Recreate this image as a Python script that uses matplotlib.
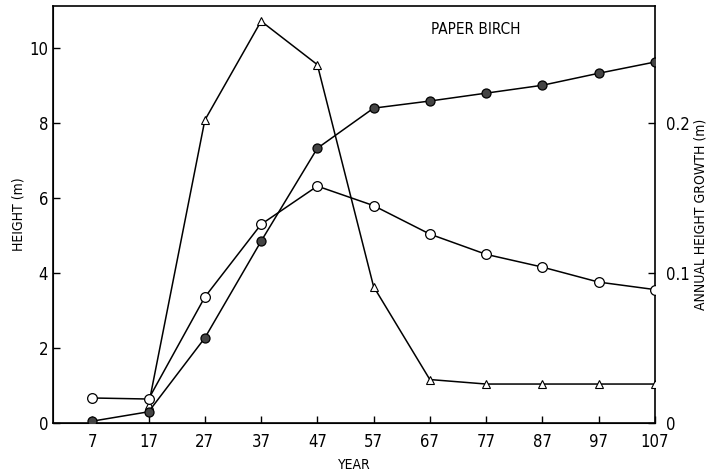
import matplotlib.pyplot as plt

plt.rcParams['font.family'] = ['DejaVu Sans']
plt.rcParams['font.stretch'] = 'condensed'

years = [7, 17, 27, 37, 47, 57, 67, 77, 87, 97, 107]
# height (m), filled circles
height = [0.05, 0.3, 2.27, 4.85, 7.33, 8.4, 8.59, 8.8, 9.01, 9.33, 9.63]
# mean annual height growth (m), open circles
mean_growth = [0.0167, 0.016, 0.084, 0.1325, 0.158, 0.145, 0.126, 0.1125, 0.104, 0.094, 0.089]
# periodic annual height growth (m), triangles
tri_years = [17, 27, 37, 47, 57, 67, 77, 87, 97, 107]
period_growth = [0.012, 0.202, 0.268, 0.239, 0.091, 0.029, 0.026, 0.026, 0.026, 0.026]

xticks = years
yticks = [0, 2, 4, 6, 8, 10]
rticks = [0, 0.1, 0.2]
rtick_labels = ['0', '0.1', '0.2']

fig = plt.figure(figsize=(7.11, 4.76), dpi=100)
ax = fig.add_axes([0.0745, 0.1113, 0.8465, 0.8757])
ax2 = ax.twinx()

ymax = 11.12
ax.set_xlim(0, 107)
ax.set_ylim(0, ymax)
ax2.set_ylim(0, ymax / 40)

ax2.plot(tri_years, period_growth, '-^', color='black', lw=1.1,
         mfc='white', mec='black', ms=6, mew=0.8, zorder=3)
ax2.plot(years, mean_growth, '-o', color='black', lw=1.1,
         mfc='white', mec='black', ms=7, mew=0.9, zorder=3)
ax.plot(years, height, '-o', color='black', lw=1.1,
        mfc='#444444', mec='black', ms=6.5, mew=0.9, zorder=4)
ax.set_zorder(ax2.get_zorder() + 1)
ax.patch.set_visible(False)

ax.set_xticks(xticks)
ax.set_yticks(yticks)
ax2.set_yticks(rticks)
ax2.set_yticklabels(rtick_labels)

ax.tick_params(axis='both', direction='in', length=5, width=1, labelsize=12)
ax.tick_params(axis='x', pad=7)
ax2.tick_params(axis='y', direction='in', length=5, width=1, labelsize=12, pad=8)

for a in (ax, ax2):
    a.spines['top'].set_visible(False)
ax.spines['right'].set_visible(False)
for s in ('left', 'bottom'):
    ax.spines[s].set_linewidth(1.2)
ax2.spines['right'].set_linewidth(1.2)
ax.axhline(ymax, color='black', lw=1.2, clip_on=False)

ax.set_xlabel('YEAR', fontsize=10, labelpad=5)
ax.set_ylabel('HEIGHT (m)', fontsize=10)
ax.yaxis.set_label_coords(-0.045, 0.5)
ax2.set_ylabel('ANNUAL HEIGHT GROWTH (m)', fontsize=10)
ax2.yaxis.set_label_coords(1.065, 0.5)

ax.text(75.1, 10.5, 'PAPER BIRCH', fontsize=11, ha='center', va='center')

fig.savefig('out.png', dpi=100)
